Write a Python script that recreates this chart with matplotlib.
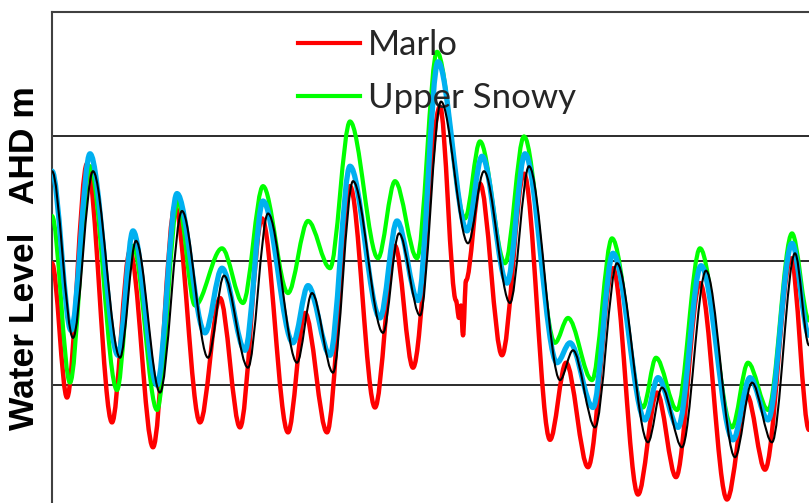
import numpy as np
import matplotlib.pyplot as plt
from matplotlib.path import Path
from matplotlib.patches import PathPatch
from matplotlib.lines import Line2D

# hours from start of record, water level (m AHD) at the turning points
marlo_t = [0, 3.75, 8.75, 15, 19.5, 25.25, 30.75, 37, 42, 47, 52.5, 59, 63.25,
           68.75, 74.5, 80.75, 85.75, 90.25, 97, 101, 101.75, 102.25, 102.75,
           103.5, 107, 112.5, 118, 124.5, 128.5, 134, 140.25, 146.5, 151.25,
           156, 162, 168.75, 173.75, 178.25, 184.75, 189.25]
marlo_h = [0.49, -0.05, 0.89, -0.15, 0.54, -0.25, 0.72, -0.15, 0.35, -0.17,
           0.67, -0.19, 0.29, -0.19, 0.80, -0.09, 0.56, 0.07, 1.12, 0.34, 0.27,
           0.32, 0.20, 0.42, 0.81, 0.12, 0.85, -0.22, 0.09, -0.33, 0.47, -0.44,
           -0.03, -0.37, 0.41, -0.46, -0.04, -0.34, 0.51, -0.18]

snowy_t = [0, 4.5, 9.5, 16.25, 20.25, 26.25, 31.5, 35.75, 42.5, 47.75, 52.75,
           59, 64, 69.5, 74.5, 81.5, 85.75, 91.25, 96.25, 103.25, 107, 113.25,
           118, 125.75, 129, 135, 140, 147.75, 151, 156.25, 162, 170, 174, 179,
           185, 189.25]
snowy_h = [0.68, 0.01, 0.88, -0.02, 0.56, -0.10, 0.74, 0.32, 0.55, 0.33, 0.80,
           0.37, 0.66, 0.47, 1.06, 0.51, 0.82, 0.51, 1.34, 0.67, 0.98, 0.49,
           1.00, 0.17, 0.27, 0.02, 0.59, -0.09, 0.11, -0.10, 0.55, -0.17, 0.09,
           -0.10, 0.61, 0.26]

blue_t = [0, 4.75, 9.5, 16.5, 20.25, 26.25, 31.25, 38.25, 42.5, 48.25, 52.75,
          60.25, 64, 69.5, 74.5, 82, 86.25, 91.5, 96.5, 103.75, 107.5, 113.75,
          118.25, 126.25, 129.5, 135.25, 140.25, 148.25, 151.5, 156.5, 162.25,
          170.25, 174.5, 179, 185, 189.25]
blue_h = [0.86, 0.22, 0.93, 0.12, 0.62, 0.00, 0.77, 0.21, 0.47, 0.14, 0.74,
          0.17, 0.40, 0.12, 0.88, 0.27, 0.66, 0.34, 1.30, 0.62, 0.92, 0.41,
          0.93, 0.09, 0.17, -0.09, 0.53, -0.14, 0.03, -0.17, 0.48, -0.22, 0.03,
          -0.14, 0.57, 0.20]

black_t = [0, 5.25, 10.25, 17, 21, 27, 32.5, 39, 43, 49, 54, 61.25, 65, 70.25,
           75.25, 82.75, 86.75, 92, 97.25, 104, 108, 114.5, 119.25, 127, 130.25,
           135.75, 141.25, 149, 152.5, 157.5, 163.5, 170.75, 175, 180, 185.75,
           189.25]
black_h = [0.86, 0.19, 0.86, 0.11, 0.58, -0.03, 0.70, 0.11, 0.44, 0.07, 0.69,
           0.09, 0.37, 0.05, 0.82, 0.21, 0.61, 0.28, 1.14, 0.57, 0.86, 0.33,
           0.88, 0.02, 0.14, -0.17, 0.49, -0.23, -0.01, -0.25, 0.46, -0.29,
           0.01, -0.23, 0.53, 0.16]


def tide_path(t, h):
    # cubic segments with flat tangents at each turning point
    verts = [(t[0], h[0])]
    codes = [Path.MOVETO]
    for i in range(1, len(t)):
        d = (t[i] - t[i - 1]) / 3.0
        verts += [(t[i - 1] + d, h[i - 1]), (t[i] - d, h[i]), (t[i], h[i])]
        codes += [Path.CURVE4] * 3
    return Path(verts, codes)


fig = plt.figure(figsize=(8.09, 5.03), dpi=100)
ax = fig.add_axes([52 / 809, 0, 1 - 52 / 809, 1 - 12 / 503])

series = [(marlo_t, marlo_h, '#ff0000', 3.2),
          (snowy_t, snowy_h, '#00ff00', 3.0),
          (blue_t, blue_h, '#00b0f0', 3.8),
          (black_t, black_h, '#000000', 1.5)]
for z, (t, h, c, w) in enumerate(series):
    ax.add_patch(PathPatch(tide_path(t, h), fill=False, edgecolor=c, lw=w,
                           capstyle='round', joinstyle='round', zorder=3 + z))

ax.set_xlim(0, 189.25)
ax.set_ylim(-0.474, 1.5)
ax.set_yticks([0, 0.5, 1.0, 1.5])
ax.set_xticks([])
ax.tick_params(length=0, labelleft=False)
ax.grid(axis='y', color='#1a1a1a', lw=1.3)
ax.set_axisbelow(True)
for s in ['right', 'bottom']:
    ax.spines[s].set_visible(False)
for s in ['left', 'top']:
    ax.spines[s].set_color('#404040')
    ax.spines[s].set_linewidth(1.5)

handles = [Line2D([], [], color='#ff0000', lw=3),
           Line2D([], [], color='#00ff00', lw=3)]
ax.legend(handles, ['Marlo', 'Upper Snowy'], loc='upper left',
          bbox_to_anchor=(298 / 809, 1 - 29 / 503), bbox_transform=fig.transFigure,
          frameon=False, borderpad=0, borderaxespad=0,
          prop={'family': 'Lato', 'size': 25}, handlelength=1.79,
          handletextpad=0.23, labelspacing=0.6, labelcolor='#262626')

fig.text(25 / 809, 1 - 258 / 503, 'Water Level   AHD m', rotation=90,
         ha='center', va='center', fontsize=25.5, fontweight='bold',
         family='Liberation Sans')

plt.savefig('out.png', dpi=100)
plt.close()
